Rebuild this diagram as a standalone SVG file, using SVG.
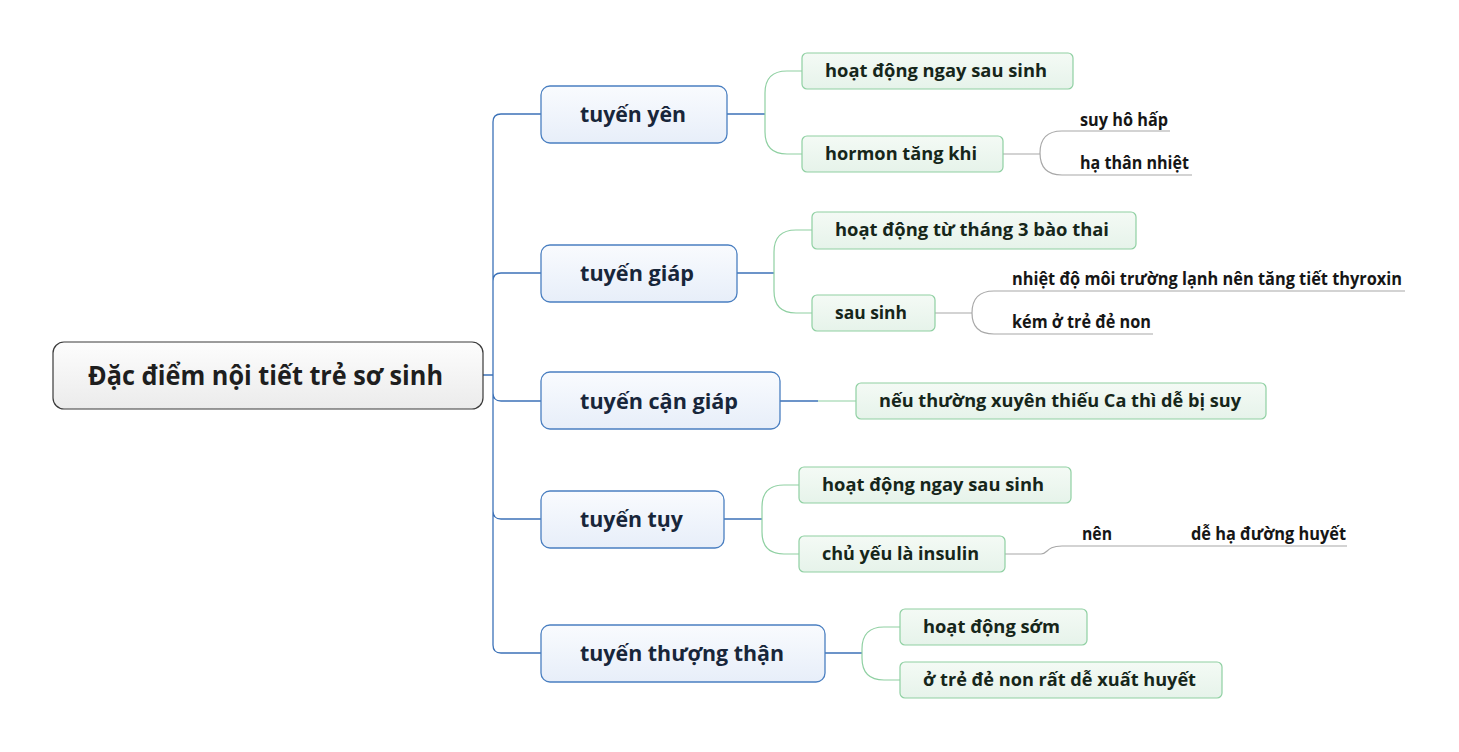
<svg xmlns="http://www.w3.org/2000/svg" width="1459" height="752" viewBox="0 0 1459 752">
<defs>
<linearGradient id="gRoot" x1="0" y1="0" x2="0" y2="1"><stop offset="0" stop-color="#fdfdfd"/><stop offset="1" stop-color="#ebebeb"/></linearGradient>
<linearGradient id="gMain" x1="0" y1="0" x2="0" y2="1"><stop offset="0" stop-color="#f9fbfe"/><stop offset="1" stop-color="#e7eef9"/></linearGradient>
<linearGradient id="gSub" x1="0" y1="0" x2="0" y2="1"><stop offset="0" stop-color="#f4faf5"/><stop offset="1" stop-color="#e6f3ea"/></linearGradient>
</defs>
<style>
text{font-family:"Open Sans","Noto Sans","Liberation Sans",sans-serif;font-weight:bold}
.root rect{fill:url(#gRoot);stroke:#3a3a3a;stroke-width:1.2}
.root text{font-size:26px;fill:#1e1e1e}
.main rect{fill:url(#gMain);stroke:#4a7fc1;stroke-width:1.3}
.main text{font-size:22px;fill:#18263a}
.sub rect{fill:url(#gSub);stroke:#8fd0a2;stroke-width:1.2}
.sub text{font-size:18px;fill:#16261a}
.leaf text{font-size:17px;fill:#161616}
.cb{fill:none;stroke:#3c72b8;stroke-width:1.3}
.cg{fill:none;stroke:#8fd0a2;stroke-width:1.2}
.cy{fill:none;stroke:#a8a8a8;stroke-width:1.2}
</style>
<rect width="1459" height="752" fill="#fff"/>
<g id="connectors">
<path class="cb" d="M483,375 H493 M493,375 V122 Q493,114 501,114 H541 M493,375 V281 Q493,273 501,273 H541 M493,375 V393 Q493,401 501,401 H541 M493,375 V511 Q493,519 501,519 H541 M493,375 V645 Q493,653 501,653 H541"/>
<path class="cb" d="M727,114 H765 M737,273 H774 M780,401 H818 M724,519 H762 M825,653 H862"/>
<path class="cg" d="M765,114 V93 Q765,71 787,71 H802 M765,114 V132 Q765,154 787,154 H802"/>
<path class="cg" d="M774,273 V252 Q774,230 796,230 H812 M774,273 V291 Q774,313 796,313 H812"/>
<path class="cg" d="M818,401 H856"/>
<path class="cg" d="M762,519 V507 Q762,485 784,485 H799 M762,519 V532 Q762,554 784,554 H799"/>
<path class="cg" d="M862,653 V649 Q862,627 884,627 H900 M862,653 V658 Q862,680 884,680 H900"/>
<path class="cy" d="M1003,154 H1040 M1040,154 V153 Q1040,131 1062,131 H1170 M1040,154 V153 Q1040,175 1062,175 H1192"/>
<path class="cy" d="M935,313 H972 M972,313 Q972,291 994,291 H1405 M972,313 Q972,334 994,334 H1153"/>
<path class="cy" d="M1005,554 H1041 C1048,554 1046,546 1062,546 H1347"/>
</g>
<g id="root" class="root"><rect x="53" y="342" width="430" height="67" rx="11"/><text x="88" y="385" textLength="355" lengthAdjust="spacingAndGlyphs">Đặc điểm nội tiết trẻ sơ sinh</text></g>
<g id="n-yen" class="main"><rect x="541" y="86" width="186" height="57" rx="9"/><text x="580" y="122" textLength="106" lengthAdjust="spacingAndGlyphs">tuyến yên</text></g>
<g id="n-giap" class="main"><rect x="541" y="245" width="196" height="57" rx="9"/><text x="580" y="281" textLength="114" lengthAdjust="spacingAndGlyphs">tuyến giáp</text></g>
<g id="n-canGiap" class="main"><rect x="541" y="372" width="239" height="57" rx="9"/><text x="580" y="409" textLength="158" lengthAdjust="spacingAndGlyphs">tuyến cận giáp</text></g>
<g id="n-tuy" class="main"><rect x="541" y="491" width="183" height="57" rx="9"/><text x="580" y="527" textLength="103" lengthAdjust="spacingAndGlyphs">tuyến tụy</text></g>
<g id="n-thuongThan" class="main"><rect x="541" y="625" width="284" height="57" rx="9"/><text x="580" y="661" textLength="204" lengthAdjust="spacingAndGlyphs">tuyến thượng thận</text></g>
<g id="s-yen1" class="sub"><rect x="802" y="53" width="271" height="36" rx="5"/><text x="825" y="77" textLength="222" lengthAdjust="spacingAndGlyphs">hoạt động ngay sau sinh</text></g>
<g id="s-yen2" class="sub"><rect x="802" y="136" width="201" height="36" rx="5"/><text x="825" y="160" textLength="152" lengthAdjust="spacingAndGlyphs">hormon tăng khi</text></g>
<g id="s-giap1" class="sub"><rect x="812" y="212" width="324" height="37" rx="5"/><text x="835" y="236" textLength="274" lengthAdjust="spacingAndGlyphs">hoạt động từ tháng 3 bào thai</text></g>
<g id="s-giap2" class="sub"><rect x="812" y="295" width="123" height="36" rx="5"/><text x="835" y="319" textLength="72" lengthAdjust="spacingAndGlyphs">sau sinh</text></g>
<g id="s-canGiap1" class="sub"><rect x="856" y="383" width="410" height="36" rx="5"/><text x="879" y="407" textLength="362" lengthAdjust="spacingAndGlyphs">nếu thường xuyên thiếu Ca thì dễ bị suy</text></g>
<g id="s-tuy1" class="sub"><rect x="799" y="467" width="272" height="36" rx="5"/><text x="822" y="491" textLength="222" lengthAdjust="spacingAndGlyphs">hoạt động ngay sau sinh</text></g>
<g id="s-tuy2" class="sub"><rect x="799" y="536" width="206" height="36" rx="5"/><text x="822" y="560" textLength="157" lengthAdjust="spacingAndGlyphs">chủ yếu là insulin</text></g>
<g id="s-tt1" class="sub"><rect x="900" y="609" width="187" height="36" rx="5"/><text x="923" y="633" textLength="137" lengthAdjust="spacingAndGlyphs">hoạt động sớm</text></g>
<g id="s-tt2" class="sub"><rect x="900" y="662" width="322" height="36" rx="5"/><text x="923" y="686" textLength="273" lengthAdjust="spacingAndGlyphs">ở trẻ đẻ non rất dễ xuất huyết</text></g>
<g id="l-suyHoHap" class="leaf"><text x="1080" y="126" textLength="88" lengthAdjust="spacingAndGlyphs">suy hô hấp</text></g>
<g id="l-haThanNhiet" class="leaf"><text x="1080" y="169" textLength="109" lengthAdjust="spacingAndGlyphs">hạ thân nhiệt</text></g>
<g id="l-nhietDo" class="leaf"><text x="1012" y="285" textLength="390" lengthAdjust="spacingAndGlyphs">nhiệt độ môi trường lạnh nên tăng tiết thyroxin</text></g>
<g id="l-kem" class="leaf"><text x="1012" y="328" textLength="139" lengthAdjust="spacingAndGlyphs">kém ở trẻ đẻ non</text></g>
<g id="l-nen" class="leaf"><text x="1082" y="540" textLength="30" lengthAdjust="spacingAndGlyphs">nên</text></g>
<g id="l-deHa" class="leaf"><text x="1191" y="540" textLength="155" lengthAdjust="spacingAndGlyphs">dễ hạ đường huyết</text></g>
</svg>
